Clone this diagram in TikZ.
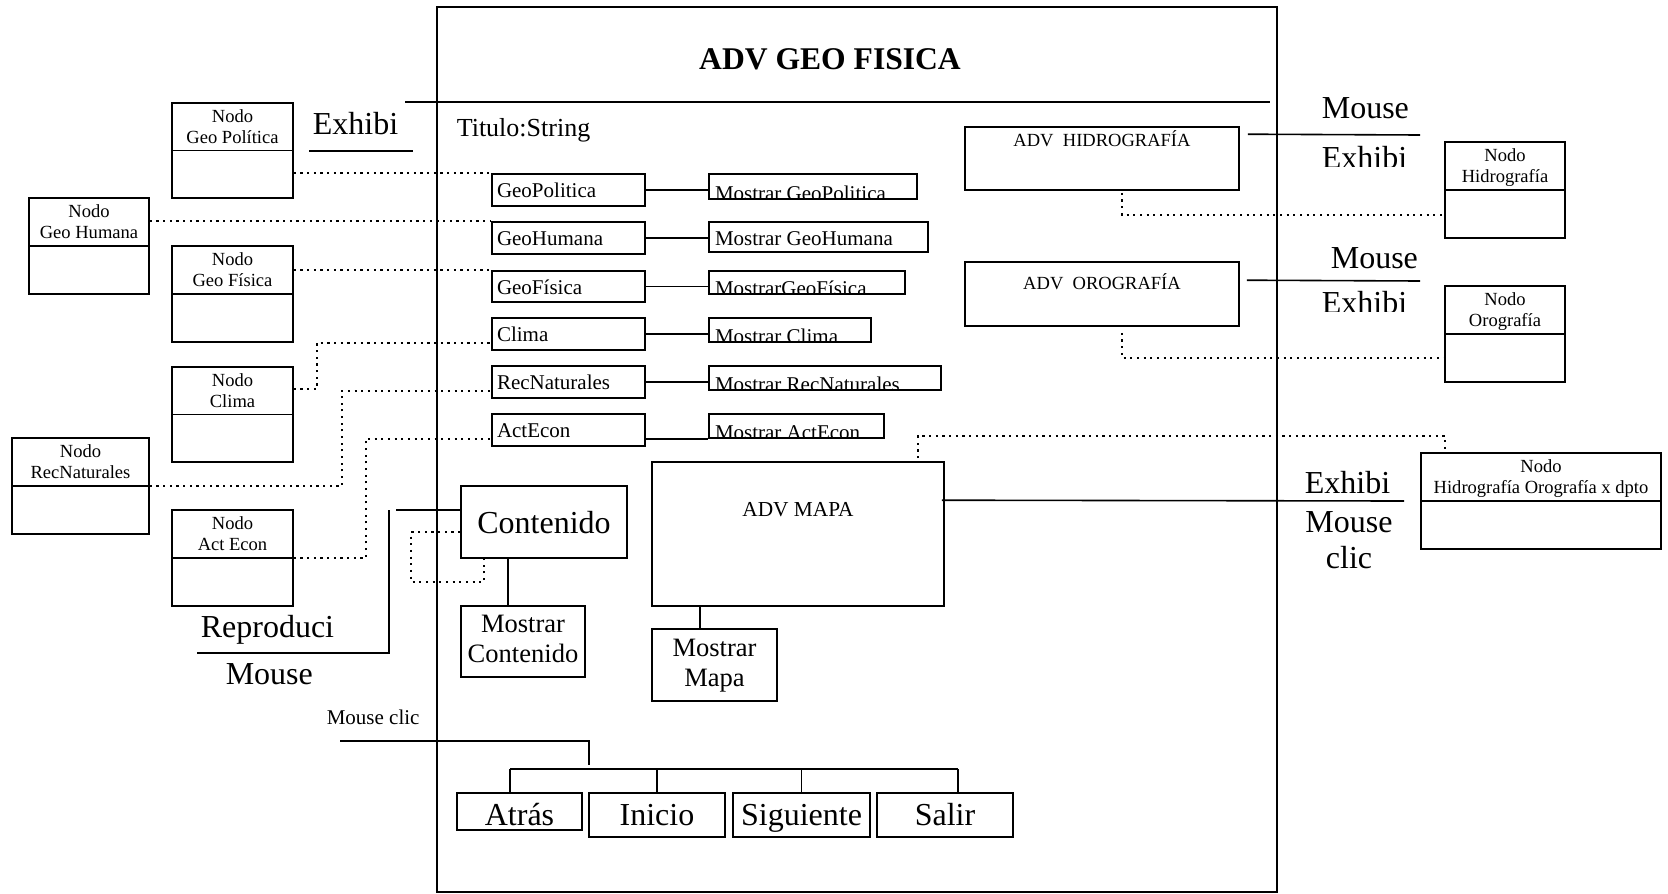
\documentclass[tikz,border=0pt]{standalone}
\usepackage{fontspec}
\setmainfont{Liberation Serif}
\usetikzlibrary{calc,fit}

\begin{document}
\begin{tikzpicture}[x=0.75pt,y=-0.75pt,
  line width=1.2pt,
  box/.style={draw, rectangle, inner sep=0pt, line width=1.2pt},
  txt/.style={inner sep=0pt, font=\fontsize{15.75}{18}\selectfont},
  nodotxt/.style={inner sep=0pt, align=center, font=\fontsize{13.9}{15.75}\selectfont},
  big/.style={inner sep=0pt, font=\fontsize{24}{27}\selectfont},
  mid/.style={inner sep=0pt, align=center, font=\fontsize{19.9}{22.5}\selectfont},
  dotline/.style={line width=1.6pt, dash pattern=on 1.6pt off 3.4pt},
]
\useasboundingbox (0,0) rectangle (1668,893);

% ---------- main class frame ----------
\node[box, line width=1pt, fit={(437,7)(1277,892)}] (main) {};
\node[inner sep=0pt, anchor=base, font=\bfseries\fontsize{23.7}{26}\selectfont] (title) at (830,69) {ADV GEO FISICA};
\coordinate (tl) at (405,102);
\coordinate (tr) at (1270,102);
\draw (tl) -- (tr);
\node[inner sep=0pt, anchor=base west, font=\fontsize{19.5}{22}\selectfont] (titulo) at (456,136) {Titulo:String};

% ---------- left node classes ----------
\node[box, fit={(172,103)(293,198)}] (nGP) {};
\draw (nGP.west) -- (nGP.east);
\node[nodotxt, anchor=north] (tGP) at ($(nGP.north)+(0,6.4)$) {Nodo\\Geo Política};

\node[box, fit={(29,198)(149,294)}] (nGH) {};
\draw (nGH.west) -- (nGH.east);
\node[nodotxt, anchor=north] (tGH) at ($(nGH.north)+(0,6.4)$) {Nodo\\Geo Humana};

\node[box, fit={(172,246)(293,342)}] (nGF) {};
\draw (nGF.west) -- (nGF.east);
\node[nodotxt, anchor=north] (tGF) at ($(nGF.north)+(0,6.4)$) {Nodo\\Geo Física};

\node[box, fit={(172,367)(293,462)}] (nCl) {};
\draw (nCl.west) -- (nCl.east);
\node[nodotxt, anchor=north] (tCl) at ($(nCl.north)+(0,6.4)$) {Nodo\\Clima};

\node[box, fit={(12,438)(149,534)}] (nRN) {};
\draw (nRN.west) -- (nRN.east);
\node[nodotxt, anchor=north] (tRN) at ($(nRN.north)+(0,6.4)$) {Nodo\\RecNaturales};

\node[box, fit={(172,510)(293,606)}] (nAE) {};
\draw (nAE.west) -- (nAE.east);
\node[nodotxt, anchor=north] (tAE) at ($(nAE.north)+(0,6.4)$) {Nodo\\Act Econ};

% ---------- content items ----------
\node[box, fit={(492,174)(645,206)}] (cGP) {};
\node[txt, anchor=base west] (lGP) at ($(cGP.north west)+(5,24)$) {GeoPolitica};
\node[box, fit={(492,222)(645,254)}] (cGH) {};
\node[txt, anchor=base west] (lGH) at ($(cGH.north west)+(5,24)$) {GeoHumana};
\node[box, fit={(492,271)(645,302)}] (cGF) {};
\node[txt, anchor=base west] (lGF) at ($(cGF.north west)+(5,24)$) {GeoFísica};
\node[box, fit={(492,318)(645,350)}] (cCl) {};
\node[txt, anchor=base west] (lCl) at ($(cCl.north west)+(5,24)$) {Clima};
\node[box, fit={(492,366)(645,398)}] (cRN) {};
\node[txt, anchor=base west] (lRN) at ($(cRN.north west)+(5,24)$) {RecNaturales};
\node[box, fit={(492,414)(645,446)}] (cAE) {};
\node[txt, anchor=base west] (lAE) at ($(cAE.north west)+(5,24)$) {ActEcon};

% ---------- show methods (labels cut by the box edge) ----------
\node[box, fit={(709,174)(917,199)}] (mGP) {};
\begin{scope}
  \clip (mGP.north west) rectangle ($(mGP.south east)+(0,-1)$);
  \node[txt, anchor=base west] (lmGP) at ($(mGP.south west)+(6,1)$) {Mostrar GeoPolitica};
\end{scope}
\node[box, fit={(709,222)(928,252)}] (mGH) {};
\node[txt, anchor=base west] (lmGH) at ($(mGH.north west)+(6,24)$) {Mostrar GeoHumana};
\node[box, fit={(709,271)(905,294)}] (mGF) {};
\begin{scope}
  \clip (mGF.north west) rectangle ($(mGF.south east)+(0,-1)$);
  \node[txt, anchor=base west] (lmGF) at ($(mGF.south west)+(6,1)$) {MostrarGeoFísica};
\end{scope}
\node[box, fit={(709,318)(871,342)}] (mCl) {};
\begin{scope}
  \clip (mCl.north west) rectangle ($(mCl.south east)+(0,-1)$);
  \node[txt, anchor=base west] (lmCl) at ($(mCl.south west)+(6,1)$) {Mostrar Clima};
\end{scope}
\node[box, fit={(709,366)(941,390)}] (mRN) {};
\begin{scope}
  \clip (mRN.north west) rectangle ($(mRN.south east)+(0,-1)$);
  \node[txt, anchor=base west] (lmRN) at ($(mRN.south west)+(6,1)$) {Mostrar RecNaturales};
\end{scope}
\node[box, fit={(709,414)(884,438)}] (mAE) {};
\begin{scope}
  \clip (mAE.north west) rectangle ($(mAE.south east)+(0,-1)$);
  \node[txt, anchor=base west] (lmAE) at ($(mAE.south west)+(6,1)$) {Mostrar ActEcon};
\end{scope}

\draw (cGP.east) -- (cGP.east -| mGP.west);
\draw (cGH.east) -- (cGH.east -| mGH.west);
\draw (cGF.east) -- (cGF.east -| mGF.west);
\draw (cCl.east) -- (cCl.east -| mCl.west);
\draw (cRN.east) -- (cRN.east -| mRN.west);
\draw ($(cAE.south east)+(0,-8)$) -- (mAE.south west);

% ---------- dotted links to node classes ----------
\draw[dotline] (nGP.east |- cGP.north west) -- (cGP.north west);
\draw[dotline] (nGH.east |- cGH.north west) -- (cGH.north west);
\draw[dotline] (nGF.east |- cGF.north west) -- (cGF.north west);
\draw[dotline] ($(nCl.north east)+(0,23)$) -- ++(23,0) |- ($(cCl.south west)+(0,-8)$);
\draw[dotline] (nRN.east) -- ++(192,0) |- ($(cRN.south west)+(0,-8)$);
\draw[dotline] (nAE.east) -- ++(72,0) |- ($(cAE.south west)+(0,-8)$);

% ---------- left labels ----------
\node[big, anchor=base west] (ex0) at (312,134) {Exhibi};
\coordinate (eu1) at (309,151);
\coordinate (eu2) at (413,151);
\draw (eu1) -- (eu2);

% ---------- content ----------
\node[box, fit={(461,486)(627,558)}] (cont) {};
\node[big, anchor=base] (tcont) at ($(cont.north)+(0,48)$) {Contenido};
\node[box, fit={(461,606)(585,677)}] (mcont) {};
\node[mid, anchor=north] (tmcont) at ($(mcont.north)+(0,9.5)$) {Mostrar\\Contenido};
\draw ($(cont.south west)+(48,0)$) -- ($(mcont.north west)+(48,0)$);
\draw[dotline] ($(cont.north west)+(0,47)$) -- ++(-49,0) |- ($(cont.south west)+(24,23)$) -- ($(cont.south west)+(24,0)$);

\coordinate (rpA) at (197,653);
\coordinate (rpB) at (389,510);
\draw (rpA) -| (rpB);
\coordinate (rpC) at (396,510);
\draw (rpC) -- (rpC -| cont.west);
\node[big, anchor=base west] (repro) at (200,637) {Reproduci};
\node[big, anchor=base west] (mo4) at (225,684) {Mouse};

% ---------- map ----------
\node[box, fit={(652,462)(944,606)}] (mapa) {};
\node[inner sep=0pt, anchor=base, font=\fontsize{16}{18}\selectfont] (tmapa) at ($(mapa.north)+(0,55)$) {ADV MAPA};
\node[box, fit={(652,629)(777,701)}] (mmapa) {};
\node[mid, anchor=north] (tmmapa) at ($(mmapa.north)+(0,10.5)$) {Mostrar\\Mapa};
\draw ($(mapa.south west)+(49,0)$) -- ($(mmapa.north west)+(49,0)$);

% ---------- right side ----------
\node[box, fit={(965,127)(1239,190)}] (hidro) {};
\node[inner sep=0pt, anchor=base, font=\fontsize{13.9}{16}\selectfont] (thidro) at ($(hidro.north)+(0,20)$) {ADV\ \ HIDROGRAFÍA};
\node[box, fit={(965,262)(1239,326)}] (oro) {};
\node[inner sep=0pt, anchor=base, font=\fontsize{13.9}{16}\selectfont] (toro) at ($(oro.north)+(0,28)$) {ADV\ \ OROGRAFÍA};

\node[box, fit={(1445,142)(1565,238)}] (nHi) {};
\draw (nHi.west) -- (nHi.east);
\node[nodotxt, anchor=north] (tHi) at ($(nHi.north)+(0,6.4)$) {Nodo\\Hidrografía};
\node[box, fit={(1445,286)(1565,382)}] (nOr) {};
\draw (nOr.west) -- (nOr.east);
\node[nodotxt, anchor=north] (tOr) at ($(nOr.north)+(0,6.4)$) {Nodo\\Orografía};
\node[box, fit={(1421,453)(1661,549)}] (nXd) {};
\draw (nXd.west) -- (nXd.east);
\node[nodotxt, anchor=north] (tXd) at ($(nXd.north)+(0,6.4)$) {Nodo\\Hidrografía Orografía x dpto};

\draw[dotline] ($(hidro.south)+(20,2)$) |- ($(nHi.south west)+(0,-24)$);
\draw[dotline] ($(oro.south)+(20,6)$) |- ($(nOr.south west)+(0,-25)$);
\draw[dotline] ($(mapa.north east)+(-27,-3)$) |- ($(nXd.north west)+(25,-16)$) -- ($(nXd.north west)+(25,0)$);

\coordinate (hE) at (1420,135);
\draw ($(hidro.north east)+(8,8)$) -- (hE);
\coordinate (oE) at (1420,281);
\draw ($(oro.north east)+(7,19)$) -- (oE);
\coordinate (mE) at (1404,501);
\draw ($(mapa.north east)+(-3,39)$) -- (mE);

\node[big, anchor=base west] (mo1) at (1321,118) {Mouse};
\begin{scope}
  \clip (1300,140) rectangle (1450,166);
  \node[big, anchor=base west] (ex1) at (1321,168) {Exhibi};
\end{scope}
\node[big, anchor=base west] (mo2) at (1330,268) {Mouse};
\begin{scope}
  \clip (1300,285) rectangle (1450,311);
  \node[big, anchor=base west] (ex2) at (1321,313) {Exhibi};
\end{scope}
\node[big, anchor=base west] (ex3) at (1304,493) {Exhibi};
\node[big, align=center, anchor=north] (mo3) at (1349,511) {Mouse\\clic};

% ---------- navigation ----------
\node[inner sep=0pt, anchor=base west, font=\fontsize{15.75}{18}\selectfont] (mclic) at (326,724) {Mouse clic};
\coordinate (mc1) at (340,741);
\coordinate (mc2) at (589,765);
\draw (mc1) -| (mc2);
\coordinate (busL) at (510,769);
\coordinate (busR) at (958,769);
\draw (busL) -- (busR);

\node[box, fit={(457,793)(582,830)}] (atras) {};
\node[big, anchor=base] (tatras) at ($(atras.north)+(0,33)$) {Atrás};
\node[box, fit={(589,793)(725,837)}] (inicio) {};
\node[big, anchor=base] (tinicio) at ($(inicio.north)+(0,33)$) {Inicio};
\node[box, fit={(733,793)(870,837)}] (sig) {};
\node[big, anchor=base] (tsig) at ($(sig.north)+(0,33)$) {Siguiente};
\node[box, fit={(877,793)(1013,837)}] (salir) {};
\node[big, anchor=base] (tsalir) at ($(salir.north)+(0,33)$) {Salir};
\draw (busL) -- (busL |- atras.north);
\draw (inicio.north |- busL) -- (inicio.north);
\draw (sig.north |- busL) -- (sig.north);
\draw (busR) -- (busR |- salir.north);
\end{tikzpicture}
\end{document}
